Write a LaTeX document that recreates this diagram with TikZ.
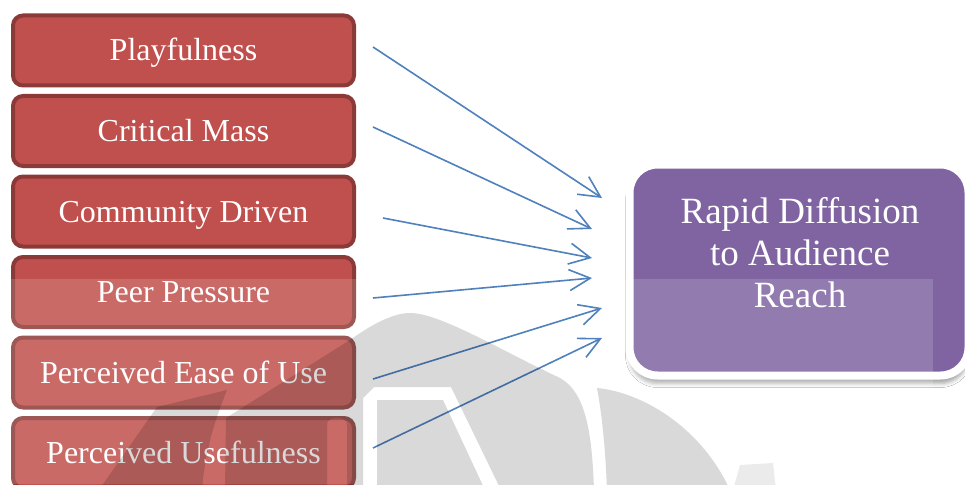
\documentclass[tikz,border=0pt]{standalone}
\usepackage{fontspec}
\setmainfont{Liberation Serif}
\usetikzlibrary{arrows.meta,shadows.blur}
\definecolor{redfill}{HTML}{C0504D}
\definecolor{redline}{HTML}{8C3A38}
\definecolor{purplefill}{HTML}{8064A2}
\definecolor{arrowblue}{HTML}{4F81BD}
\begin{document}
\begin{tikzpicture}[x=1pt,y=-1pt,
  factor/.style={draw=redline, fill=redfill, line width=4pt, rounded corners=10pt,
    minimum width=341pt, minimum height=70pt, inner sep=0pt, text=white,
    font=\fontsize{32}{36}\selectfont, text height=21pt, text depth=0pt},
  outcome/.style={draw=white, fill=purplefill, line width=8pt, rounded corners=28pt,
    minimum width=339pt, minimum height=211pt, inner sep=0pt,
    blur shadow={shadow xshift=0pt, shadow yshift=-8pt, shadow blur radius=4pt, shadow opacity=35}},
  outtext/.style={text=white, align=center, font=\fontsize{37}{42}\selectfont, inner sep=0pt},
  flow/.style={draw=arrowblue, line width=1.6pt, -{Straight Barb[length=21pt,width=21pt]}},
  wm/.style={fill=black, fill opacity=0.15, even odd rule},
  wmpale/.style={fill=black, fill opacity=0.08},
]
\useasboundingbox (0,0) rectangle (965,484);
\fill[white] (0,0) rectangle (965,484);

% factor boxes
\node[factor] (b1) at (183.5,50.5)  {Playfulness};
\node[factor] (b2) at (183.5,131)   {Critical Mass};
\node[factor] (b3) at (183.5,211.5) {Community Driven};
\node[factor] (b4) at (183.5,292)   {Peer Pressure};
\node[factor] (b5) at (183.5,372.5) {Perceived Ease of Use};
\node[factor] (b6) at (183.5,453)   {Perceived Usefulness};

% outcome box
\node[outcome] (p) at (799,270) {};
\node[outtext] (pt) at (800,253) {Rapid Diffusion\\to Audience\\Reach};

% light band of the scan
\fill[white, opacity=0.15] (0,279) rectangle (933,484);

% connectors
\coordinate (s1) at (373,47);  \coordinate (t1) at (602,198);
\coordinate (s2) at (373,127); \coordinate (t2) at (592,229);
\coordinate (s3) at (383,218); \coordinate (t3) at (592,258);
\coordinate (s4) at (373,298); \coordinate (t4) at (592,278);
\coordinate (s5) at (373,379); \coordinate (t5) at (602,308);
\coordinate (s6) at (373,448); \coordinate (t6) at (602,338);
\draw[flow] (s1) -- (t1);
\draw[flow] (s2) -- (t2);
\draw[flow] (s3) -- (t3);
\draw[flow] (s4) -- (t4);
\draw[flow] (s5) -- (t5);
\draw[flow] (s6) -- (t6);

% watermark
\fill[wm] (225,490) -- (226,418) -- (350,340)
    .. controls (375,322) and (395,313) .. (410,313)
    .. controls (440,313) and (500,350) .. (560,378)
    .. controls (585,392) and (592,430) .. (594,490) -- cycle
  (363,490) -- (363,398) -- (374,387) -- (451,387) -- (501,490)
    -- (485,490) -- (443,400) -- (377,400) -- (377,490) -- cycle
  (327,490) -- (327,424) .. controls (327,416) and (347,416) .. (347,424) -- (347,490) -- cycle;
\fill[wm] (99,490) -- (157,407) -- (227,390)
    .. controls (215,420) and (205,450) .. (202,490) -- cycle;
\fill[wm] (597,388) .. controls (640,392) and (700,425) .. (730,490)
    -- (607,490) .. controls (605,440) and (601,410) .. (597,388) -- cycle;
\fill[wmpale] (733,490) -- (740,465) -- (773,463) -- (776,490) -- cycle;
\end{tikzpicture}
\end{document}
